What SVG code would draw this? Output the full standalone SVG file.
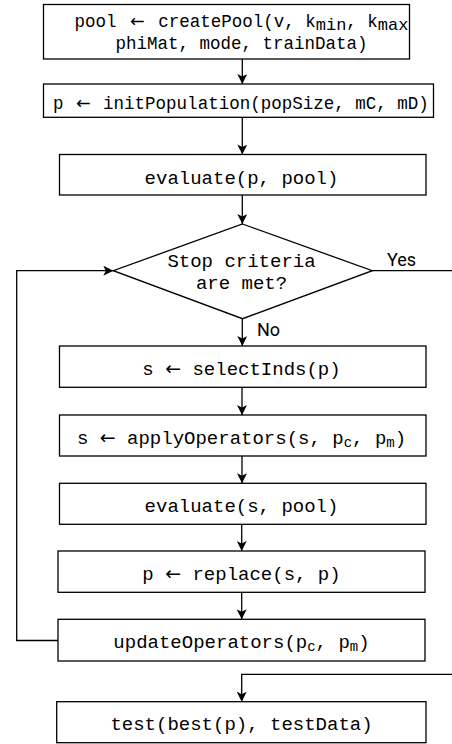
<svg xmlns="http://www.w3.org/2000/svg" width="452" height="744" viewBox="0 0 452 744">
  <defs>
    <marker id="ah" viewBox="0 0 10 10" refX="10" refY="5" markerWidth="11" markerHeight="10" markerUnits="userSpaceOnUse" orient="auto">
      <path d="M0,0 L10,5 L0,10 L2.5,5 z" fill="#000"/>
    </marker>
    <style>
      rect, polygon { fill: #fff; stroke: #000; stroke-width: 1.3; }
      .ln { fill: none; stroke: #000; stroke-width: 1.3; }
      .arr { marker-end: url(#ah); }
      text { font-family: "Liberation Mono", "DejaVu Sans Mono", monospace; fill: #000; text-anchor: middle; }
      .sm { font-size: 17.5px; }
      .lg { font-size: 19px; }
      .ar { font-family: "DejaVu Sans", sans-serif; }
      .lbl { font-family: Roboto, "Liberation Sans", sans-serif; font-size: 18px; text-anchor: start; }
    </style>
  </defs>

  <!-- connectors -->
  <g id="connectors">
    <line class="ln arr" x1="242.3" y1="59" x2="242.3" y2="84"/>
    <line class="ln arr" x1="242.3" y1="117.3" x2="242.3" y2="154.5"/>
    <line class="ln arr" x1="242.3" y1="195" x2="242.3" y2="224"/>
    <line class="ln arr" x1="242.3" y1="318.7" x2="242.3" y2="346"/>
    <line class="ln arr" x1="242" y1="387.3" x2="242" y2="415"/>
    <line class="ln arr" x1="242" y1="456" x2="242" y2="483.3"/>
    <line class="ln arr" x1="241.7" y1="524.3" x2="241.7" y2="551"/>
    <line class="ln arr" x1="241.7" y1="592.3" x2="241.7" y2="619.3"/>
    <!-- loop back to the decision -->
    <polyline class="ln arr" points="58,640.5 16.7,640.5 16.7,270.7 113.3,270.7"/>
    <!-- Yes exit -->
    <line class="ln" x1="372.3" y1="270.7" x2="452" y2="270.7"/>
    <!-- Yes re-entry -->
    <polyline class="ln arr" points="452,674.3 241.7,674.3 241.7,701.7"/>
    <text class="lbl" x="387" y="265.5">Yes</text>
    <text class="lbl" x="257" y="335.5">No</text>
  </g>

  <g id="createPool">
    <rect x="43.5" y="4.5" width="366" height="54.5"/>
    <text class="sm" x="241.5" y="27">pool <tspan class="ar" dx="3">←</tspan><tspan dx="3"> createPool(v, k</tspan><tspan font-size="17" dy="3">min</tspan><tspan dy="-3">, k</tspan><tspan font-size="17" dy="3">max</tspan></text>
    <text class="sm" x="241.5" y="48.5">phiMat, mode, trainData)</text>
  </g>

  <g id="initPopulation">
    <rect x="43.5" y="84" width="390" height="33.3"/>
    <text class="sm" x="240.8" y="109">p <tspan class="ar" dx="2">←</tspan><tspan dx="2"> initPopulation(popSize, mC, mD)</tspan></text>
  </g>

  <g id="evaluateP">
    <rect x="59.5" y="154.5" width="366.5" height="40.5"/>
    <text class="lg" x="241.5" y="184">evaluate(p, pool)</text>
  </g>

  <g id="stopCriteria">
    <polygon points="242.5,224 372.3,270.7 242.5,318.7 113.3,270.7"/>
    <text class="lg" x="241.5" y="267.3">Stop criteria</text>
    <text class="lg" x="241.5" y="289">are met?</text>
  </g>

  <g id="selectInds">
    <rect x="59.5" y="346" width="366.5" height="41.3"/>
    <text class="lg" x="241.5" y="375">s <tspan class="ar">←</tspan> selectInds(p)</text>
  </g>

  <g id="applyOperators">
    <rect x="59.5" y="415" width="366.5" height="41"/>
    <text class="lg" x="241.5" y="443.5">s <tspan class="ar">←</tspan> applyOperators(s, p<tspan font-size="14" dy="3">c</tspan><tspan dy="-3">, p</tspan><tspan font-size="14" dy="3">m</tspan><tspan dy="-3">)</tspan></text>
  </g>

  <g id="evaluateS">
    <rect x="59.5" y="483.3" width="366.5" height="41"/>
    <text class="lg" x="241.5" y="511.7">evaluate(s, pool)</text>
  </g>

  <g id="replace">
    <rect x="58" y="551" width="367" height="41.3"/>
    <text class="lg" x="241.5" y="580">p <tspan class="ar">←</tspan> replace(s, p)</text>
  </g>

  <g id="updateOperators">
    <rect x="58" y="619.3" width="367" height="41.7"/>
    <text class="lg" x="241.5" y="648.3">updateOperators(p<tspan font-size="14" dy="3">c</tspan><tspan dy="-3">, p</tspan><tspan font-size="14" dy="3">m</tspan><tspan dy="-3">)</tspan></text>
  </g>

  <g id="test">
    <rect x="56.7" y="701.7" width="369.3" height="41"/>
    <text class="lg" x="241.5" y="730">test(best(p), testData)</text>
  </g>
</svg>
